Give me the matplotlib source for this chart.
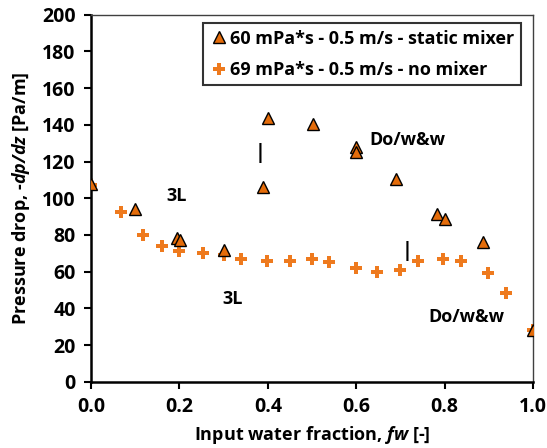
import matplotlib.pyplot as plt
import numpy as np

plt.rcParams['font.family'] = ['Open Sans', 'DejaVu Sans']
plt.rcParams['font.weight'] = 'bold'
plt.rcParams['mathtext.fontset'] = 'custom'
plt.rcParams['mathtext.bfit'] = 'Open Sans:italic:bold'
plt.rcParams['mathtext.it'] = 'Open Sans:italic:bold'

# static mixer, 60 mPa*s
fw_mix = [0.0, 0.10, 0.195, 0.202, 0.30, 0.39, 0.40, 0.503, 0.60, 0.60, 0.691, 0.783, 0.802, 0.888, 1.0]
dp_mix = [108, 94, 78.5, 77, 72, 106, 143.5, 140.5, 128, 125, 110.5, 91.5, 88.5, 76, 28]

# no mixer, 69 mPa*s
fw_nomix = [0.0, 0.068, 0.118, 0.16, 0.199, 0.254, 0.30, 0.339, 0.398, 0.45, 0.499, 0.539,
            0.60, 0.646, 0.699, 0.739, 0.797, 0.838, 0.899, 0.94, 1.0]
dp_nomix = [107, 92.5, 80, 74, 71, 70, 69, 67, 66, 66, 67, 65,
            62, 60, 61, 66, 67, 66, 59.5, 48.5, 28]

fig = plt.figure(figsize=(5.47, 4.48), dpi=100)
ax = fig.add_axes([0.1664, 0.148, 0.808, 0.819])

ax.plot(fw_nomix, dp_nomix, 'P', color='#EE7A1E', markersize=8, markeredgewidth=0,
        label='69 mPa*s - 0.5 m/s - no mixer', zorder=3)
ax.plot(fw_mix, dp_mix, '^', color='#E46C0A', markeredgecolor='black', markeredgewidth=1.0,
        markersize=8, label='60 mPa*s - 0.5 m/s - static mixer', zorder=4)

# flow pattern labels
txt = dict(fontsize=13, fontweight='bold', ha='center', va='center')
ax.text(0.194, 101, '3L', **txt)
ax.text(0.32, 45, '3L', **txt)
ax.text(0.715, 132, 'Do/w&w', **txt)
ax.text(0.85, 35, 'Do/w&w', **txt)
ax.text(0.382, 124.5, '|', fontsize=14, ha='center', va='center')
ax.text(0.716, 71, '|', fontsize=14, ha='center', va='center')

ax.set_xlim(0, 1.0)
ax.set_ylim(0, 200)
ax.set_xticks(np.arange(0, 1.01, 0.2))
ax.set_xticklabels(['0.0', '0.2', '0.4', '0.6', '0.8', '1.0'])
ax.set_yticks(np.arange(0, 201, 20))
ax.tick_params(axis='both', labelsize=14, direction='out', length=5, width=1.5, pad=6)
for lab in ax.get_xticklabels() + ax.get_yticklabels():
    lab.set_fontweight('bold')
for s in ['left', 'bottom']:
    ax.spines[s].set_linewidth(1.8)
for s in ['top', 'right']:
    ax.spines[s].set_linewidth(1.0)
    ax.spines[s].set_color('#404040')

ax.set_xlabel('Input water fraction, $\\mathbfit{fw}$ [-]', fontsize=13, fontweight='bold', labelpad=5)
ax.set_ylabel('Pressure drop, -$\\mathbfit{dp/dz}$ [Pa/m]', fontsize=13, fontweight='bold', labelpad=7)

handles, labels = ax.get_legend_handles_labels()
leg = ax.legend(handles[::-1], labels[::-1], loc='upper right', bbox_to_anchor=(0.973, 0.977),
                fontsize=13, frameon=True, fancybox=False, handletextpad=0.1,
                handlelength=1.1, borderpad=0.35, labelspacing=0.75, borderaxespad=0)
leg.get_frame().set_edgecolor('black')
leg.get_frame().set_linewidth(1.5)
for t in leg.get_texts():
    t.set_fontweight('bold')

fig.savefig('out.png', dpi=100)
